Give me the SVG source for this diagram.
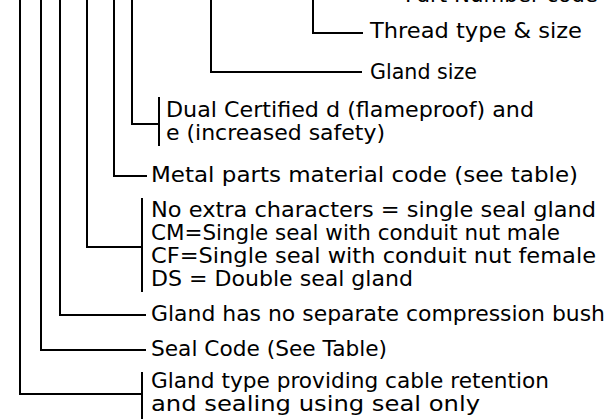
<svg xmlns="http://www.w3.org/2000/svg" width="607" height="419" viewBox="0 0 607 419">
<style>
  .ln { fill: none; stroke: #000; stroke-width: 2; stroke-linecap: butt; stroke-linejoin: miter; }
  .t { font-family: "DejaVu Sans", "Liberation Sans", sans-serif; font-size: 21.5px; fill: #000; }
</style>
<rect x="0" y="0" width="607" height="419" fill="#fff"/>
<g id="connectors">
  <polyline class="ln" points="20,0 20,394 142,394"/>
  <polyline class="ln" points="41,0 41,350 146,350"/>
  <polyline class="ln" points="60,0 60,315 146,315"/>
  <polyline class="ln" points="87,0 87,247 142,247"/>
  <polyline class="ln" points="114,0 114,176 147,176"/>
  <polyline class="ln" points="132,0 132,124 159,124"/>
  <polyline class="ln" points="211,0 211,72 362,72"/>
  <polyline class="ln" points="313,0 313,33 363,33"/>
</g>
<g id="part-number">
  <text class="t" x="405" y="1.5" textLength="193" lengthAdjust="spacingAndGlyphs">Part Number code</text>
</g>
<g id="thread">
  <text class="t" x="370" y="38" textLength="212" lengthAdjust="spacingAndGlyphs">Thread type &amp; size</text>
</g>
<g id="gland-size">
  <text class="t" x="370" y="79" textLength="107" lengthAdjust="spacingAndGlyphs">Gland size</text>
</g>
<g id="dual-cert">
  <line class="ln" x1="159" y1="97" x2="159" y2="146"/>
  <text class="t" x="166" y="117" textLength="368" lengthAdjust="spacingAndGlyphs">Dual Certified d (flameproof) and</text>
  <text class="t" x="166" y="140" textLength="219" lengthAdjust="spacingAndGlyphs">e (increased safety)</text>
</g>
<g id="metal">
  <text class="t" x="151" y="182" textLength="427" lengthAdjust="spacingAndGlyphs">Metal parts material code (see table)</text>
</g>
<g id="seal-type">
  <line class="ln" x1="142" y1="198" x2="142" y2="292"/>
  <text class="t" x="151" y="217" textLength="445" lengthAdjust="spacingAndGlyphs">No extra characters = single seal gland</text>
  <text class="t" x="151" y="240" textLength="409" lengthAdjust="spacingAndGlyphs">CM=Single seal with conduit nut male</text>
  <text class="t" x="151" y="263" textLength="445" lengthAdjust="spacingAndGlyphs">CF=Single seal with conduit nut female</text>
  <text class="t" x="151" y="286" textLength="262" lengthAdjust="spacingAndGlyphs">DS = Double seal gland</text>
</g>
<g id="no-bush">
  <text class="t" x="151" y="321" textLength="454" lengthAdjust="spacingAndGlyphs">Gland has no separate compression bush</text>
</g>
<g id="seal-code">
  <text class="t" x="151" y="356" textLength="236" lengthAdjust="spacingAndGlyphs">Seal Code (See Table)</text>
</g>
<g id="gland-type">
  <line class="ln" x1="142" y1="372" x2="142" y2="419"/>
  <text class="t" x="151" y="388" textLength="398" lengthAdjust="spacingAndGlyphs">Gland type providing cable retention</text>
  <text class="t" x="151" y="411" textLength="329" lengthAdjust="spacingAndGlyphs">and sealing using seal only</text>
</g>
</svg>
